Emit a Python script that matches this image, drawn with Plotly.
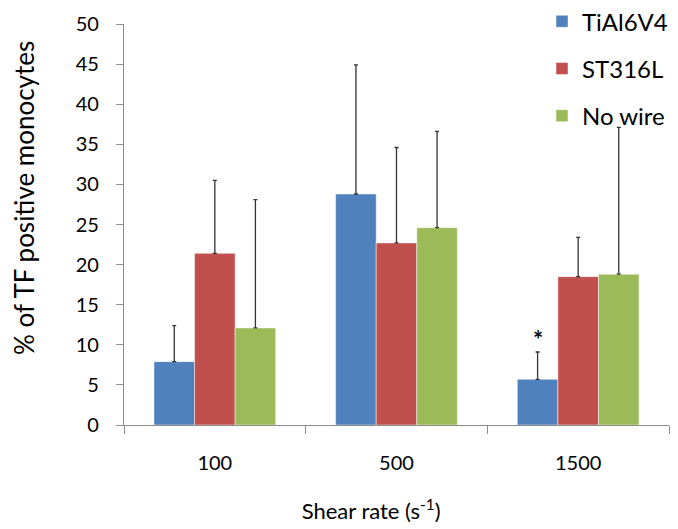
import plotly.graph_objects as go

categories = ["100", "500", "1500"]
series_names = ["TiAl6V4", "ST316L", "No wire"]
tial6v4 = [7.9, 28.8, 5.7]
st316l = [21.4, 22.7, 18.5]
no_wire = [12.1, 24.6, 18.8]
tial6v4_err = [4.5, 16.1, 3.4]
st316l_err = [9.1, 11.9, 4.9]
no_wire_err = [16.0, 12.0, 18.3]
y_ticks = [0, 5, 10, 15, 20, 25, 30, 35, 40, 45, 50]

colors = ["#4F81BD", "#C0504D", "#9BBB59"]
FONT = "Lato"
NB = "&nbsp;"

fig = go.Figure()
for name, vals, errs, col in zip(series_names, [tial6v4, st316l, no_wire],
                                 [tial6v4_err, st316l_err, no_wire_err], colors):
    fig.add_trace(go.Bar(
        x=categories, y=vals, name=name, legendgroup=name,
        marker=dict(color=col, line=dict(color="rgba(255,255,255,0.6)", width=0.8)),
        error_y=dict(type="data", array=errs, symmetric=False, arrayminus=[0]*3,
                     color="#333333", thickness=1.3, width=2),
    ))

fig.update_layout(
    width=670, height=521,
    margin=dict(l=116, r=9, t=16, b=104, autoexpand=False),
    paper_bgcolor="white", plot_bgcolor="white",
    barmode="group", bargap=0.33, bargroupgap=0,
    font=dict(family=FONT, color="#000"),
    showlegend=True,
    legend=dict(x=0.767, y=1.062, xanchor="left", yanchor="top",
                font=dict(family=FONT, size=24, color="#000"),
                tracegroupgap=13, bgcolor="rgba(0,0,0,0)"),
)
fig.update_xaxes(
    type="category", categoryorder="array", categoryarray=categories,
    range=[-0.5, len(categories) - 0.5], autorange=False, automargin=False,
    showline=True, linecolor="#8c8c8c", linewidth=1.3,
    ticks="outside", tickson="boundaries", ticklen=8, tickcolor="#8c8c8c",
    ticklabelstandoff=20,
    tickfont=dict(family=FONT, size=20, color="#000"),
    title=dict(text="Shear rate (s<sup>-1</sup>)" + NB * 9,
               font=dict(family=FONT, size=22, color="#000"), standoff=30),
    showgrid=False,
)
fig.update_yaxes(
    range=[0, 50], autorange=False, tickvals=y_ticks, automargin=False,
    showline=True, linecolor="#8c8c8c", linewidth=1.3,
    ticks="outside", ticklen=7, tickcolor="#8c8c8c",
    ticklabelstandoff=13,
    tickfont=dict(family=FONT, size=20, color="#000"),
    title=dict(text=NB * 8 + "% of TF positive monocytes",
               font=dict(family=FONT, size=26, color="#000"), standoff=38),
    showgrid=False, zeroline=False,
)

# significance asterisk above TiAl6V4 bar at 1500 (category index position)
fig.add_annotation(x=categories.index("1500"), y=tial6v4[2] + tial6v4_err[2], text="<b>*</b>",
                   showarrow=False, xshift=-40.5, yshift=13,
                   font=dict(family=FONT, size=24, color="#000"))

fig.write_html("out.html")
